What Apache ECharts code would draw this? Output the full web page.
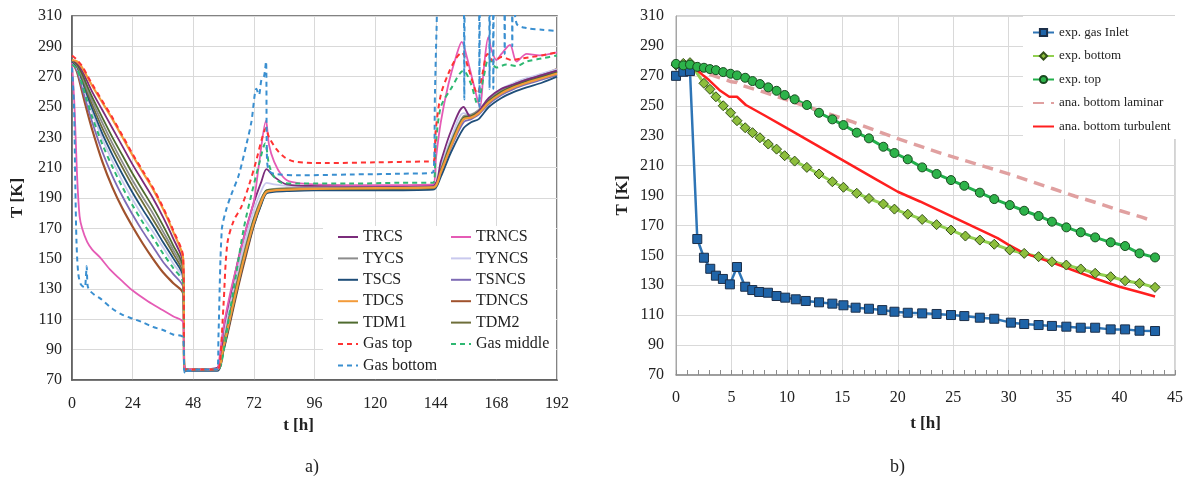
<!DOCTYPE html>
<html><head><meta charset="utf-8">
<script src="https://cdn.jsdelivr.net/npm/echarts/dist/echarts.min.js"></script>
<style>html,body{margin:0;padding:0;background:#fff}#c{width:1190px;height:479px}</style>
</head><body><div id="c"></div>
<script>
// ---------- Panel a) data ----------
const xTicksA = [0, 24, 48, 72, 96, 120, 144, 168, 192];
const yTicks = [70, 90, 110, 130, 150, 170, 190, 210, 230, 250, 270, 290, 310];

const tBand = [0,2,4,6,8,12,16,20,24,28,32,36,40,44,44.6,50,57.5,60,63,66,69,72,75,77,80,85,96,120,143,146,150,155,158,161,165,170,175,180,186,192];
const TDCS  = [281,280,276,270,264,253,242,230,218,207,196,183,168,150,77,77,77,92,114,136,156,174,188,194,195,195.5,196,196.5,197,207,224,242,243,246,253,259,263,266,269,272];
const TRCS  = [281,279,274,267,260,248,236,224,212,201,190,177.5,163.5,147,77,77,78,104,128,151,170,187,201,209,204,199,198,198,198.5,214,234,250,243,247,256,262,265,268,271,274];
const TDM1  = [281,278,272,264,256.5,243,230,218,206,195,184,172,159,144,77,77,77,93,116,138,158,176,189,195,195.5,196,196,196.5,197,208,226,243,244,247,254,260,264,267,270,273];
const TYCS  = [281,277.5,270.5,262,254,239.5,226,213.5,201.5,190.5,180,168,156,142,77,77,77,95,118,140,160,177,190,195,196,196.5,196.5,197,197.5,209,227,244,245,248,255,261,265,268,271,274];
const TDM2  = [281,277,269,260,251.5,236,222.5,210,198,187,176,165,153.5,140,77,77,77,91,113,135,155,173,187,194,195,195.5,196,196,196.5,207,225,242,243,246,253,259,263,266,270,273];
const TSCS  = [280,276.5,267.5,258,249,232.5,218.5,205.5,193.5,182.5,172,161,150.5,138,76,76,76,90,112,134,154,172,186,193,194,194.5,195,195,195.5,204,220,236,240,242,250,256,260,263,266,270];
const TYNCS = [280,275.5,266,256,246.5,229,214.5,201,189,178,168,157.5,147,136,77,77,77,98,122,145,165,182,195,200,199,198,197.5,197.5,198,211,229,246,245,248,256,262,266,269,272,275];
const TSNCS = [280,274,262.5,251,240,220.5,204.5,191,179,168,158,148,140,131,77,77,77,94,116,138,157,175,189,194.5,195,195.5,196,196,196.5,206,223,240,242,245,252,258,262,265,268,271];
const TDNCS = [280,273,260,247,235,214,197,183,171,160,150,141,134,127,77,77,77,90,111,133,153,172,187,194,195.5,196,196.5,197,197,208,226,243,244,247,255,261,265,268,271,275];

const tTRNCS = [0,1,2,3,4,6,8,11,15,20,24,30,36,40,44,44.6,50,57.5,58,60,63,66,69,72,74,76.8,78,80,83,86,96,120,143,144,146,149,152,154.3,156,159,161.5,163,164.8,166,168,170,173.4,176,180,185,192];
const TRNCS  = [279,250,205,178,170,161,156,151,143,135,129,122,116,112,108,78,77,77,80,105,130,150,170,188,212,241,225,214,205,201,199,198.5,199,215,240,265,283,293,285,265,250,275,296,288,281,285,291,280,285,284,286];

const tGasTop = [0,2,4,6,8,12,16,20,24,28,32,36,40,44,44.6,50,57.5,58.5,60,61.5,64,67,70,73,75,76.8,78,81,84,88,100,120,140,143,144,146,149,152,154.3,157,160.5,162.5,164.5,167,170,174,178,182,186,192];
const GasTop  = [284,281,277,271,265,254,243,231,219,208,197,184,169,151,77,77,77,80,120,160,175,184,198,215,228,236,230,222,217,214,213,213.5,214,214,235,258,272,282,286,275,259,272,285,280,283,281,282,283,284,286];

const tGasMid = [0,2,4,6,8,12,16,20,24,28,32,36,40,44,44.6,50,57.5,59,62,65,68,71,74,76.5,78,80,83,90,110,130,143,144,146,150,155,158,160.5,163,165,168,172,176,180,186,192];
const GasMid  = [278,275,265,254,243.5,225.5,210.5,197,185,174,164,153.5,144,134,77,77,77,80,110,140,170,192,212,226,212,204,200,199.5,199.5,200,200,225,250,262,274,265,252,270,282,276,278,277,280,282,284];

const tGasBot = [0,0.8,1.3,1.8,2.5,3.5,5,5.5,5.8,6.2,7,9,11,16,20,24,28,32,36,40,44,44.5,45,46,50,57.5,58,59.3,61,63,66,69,71,73,74,75,76,76.8,77.2,78,80,90,110,130,143,143.7,144.3,145,146,155,155.3,155.6,161,161.3,161.6,165,165.3,165.6,166.5,166.8,167.1,171,171.3,171.6,174,174.3,174.6,176,180,186,192];
const GasBot  = [276,250,200,160,140,133,131,138,145,132,129,126,124,117,113,110.5,108,105,103,100,98,75,77,76,77,77,100,169,182,192,205,225,240,262,258,268,270,280,215,208,206,205,205.5,206,207,260,300,330,330,330,255,330,330,250,330,330,262,330,330,262,330,330,285,330,330,290,330,305,302,301,300];

// ---------- Panel b) data ----------
const xTicksB = [0, 5, 10, 15, 20, 25, 30, 35, 40, 45];

const tInlet = [0,0.66,1.26,1.92,2.52,3.09,3.6,4.23,4.86,5.5,6.24,6.88,7.5,8.29,9.07,9.85,10.8,11.7,12.9,14.1,15.1,16.2,17.4,18.6,19.7,20.9,22.2,23.5,24.8,26,27.4,28.7,30.2,31.4,32.7,33.9,35.2,36.5,37.8,39.2,40.5,41.8,43.2];
const expInlet = [270,272.7,273.2,160.9,148.4,141,136.4,134.2,130.6,142.2,129,126.8,125.5,125,122.8,121.7,120.6,119.5,118.6,117.7,116.6,115,114.3,113.4,112.3,111.6,111.2,110.8,110.1,109.4,108.3,107.6,105,104.1,103.4,102.8,102.3,101.6,101.6,100.5,100.5,99.6,99.4];

const tBottom = [0,0.66,1.26,2.52,3.06,3.6,4.26,4.92,5.5,6.24,6.9,7.57,8.32,9.07,9.8,10.7,11.8,12.9,14.1,15.1,16.3,17.4,18.7,19.7,20.9,22.2,23.5,24.8,26.1,27.4,28.7,30.1,31.4,32.7,33.9,35.2,36.5,37.8,39.2,40.5,41.8,43.2];
const expBottom = [277.2,278.3,278.8,265,261,256,250,245.3,240,235.3,232,228.6,224.4,221,216.6,213,208.8,204.4,199.2,195.5,191.5,188,184.3,180.9,177.5,174,170.5,166.9,162.9,160.2,157.4,153.6,151.3,149.1,145.7,143.5,140.9,138,135.7,133,131.3,128.6];

const tTop = [0,0.66,1.26,1.92,2.52,3.06,3.6,4.26,4.92,5.5,6.24,6.9,7.57,8.32,9.07,9.8,10.7,11.8,12.9,14.1,15.1,16.3,17.4,18.7,19.7,20.9,22.2,23.5,24.8,26,27.4,28.7,30.1,31.4,32.7,33.9,35.2,36.5,37.8,39.2,40.5,41.8,43.2];
const expTop = [278,277,277.5,276,275.4,274.5,273.8,272.5,271.4,270.3,268.7,266.5,264.5,262.3,260,257.2,254.3,250.5,245.3,240.9,237.1,232,228.2,222.6,218.4,214.2,208.8,204.4,200.3,196.5,191.9,187.6,183.6,179.8,176.3,172.5,168.7,165.4,162,158.7,156.2,151.3,148.6];

const tLam = [0,0.7,1.3,2,3,4,5,5.5,6,8,10,12,14,16,18,20,22,24,26,28,30,32,34,36,38,40,42,43];
const anaLaminar = [278,278,277,273.5,271,268.5,266,265.5,263.5,259,254,249,244,239,233.5,228,223,218,213.5,209,204.5,199.5,194.5,189.5,185,180,175.5,173];

const tTurb = [0,1.3,1.7,2.5,3,4,4.8,5.5,6.3,8,10,12,14,16,18,20,22,24,26,27,28,29,30,31,32,34,36,38,40,42,43.2];
const anaTurbulent = [278,278,275,270,267,260,256,256,250.5,243.5,235,226.5,218,209.5,201,192.5,186,179,172,168.5,165,161.5,157,153,150,145,139.5,134,129,125,122.5];

// ---------- build ----------
const pairs = (t, v) => t.map((x, i) => [x, v[i]]);
const FONT = 'Liberation Serif';
const chart = echarts.init(document.getElementById('c'));

function lineA(name, t, v, color, dashed, w) {
  return { name, type: 'line', xAxisIndex: 0, yAxisIndex: 0, data: pairs(t, v),
    symbol: 'none', smooth: 0.3, clip: true,
    lineStyle: { color, width: w || 1.8, type: dashed ? [5, 4] : 'solid' },
    itemStyle: { color } };
}

const axisLabel = { fontFamily: FONT, fontSize: 16, color: '#222' };
const splitLine = { show: true, lineStyle: { color: '#D9D9D9', width: 1 } };
const nameStyle = { fontFamily: FONT, fontSize: 17, fontWeight: 'bold', color: '#222' };

const option = {
  animation: false,
  backgroundColor: '#fff',
  title: [
    { text: 'a)', left: 305, top: 458, padding: 0, textStyle: { fontFamily: FONT, fontSize: 18, fontWeight: 'normal', color: '#222' } },
    { text: 'b)', left: 890, top: 458, padding: 0, textStyle: { fontFamily: FONT, fontSize: 18, fontWeight: 'normal', color: '#222' } }
  ],
  graphic: [
    { type: 'rect', z: 1, shape: { x: 323, y: 226, width: 233, height: 153 }, style: { fill: '#fff' } }
  ],
  grid: [
    { left: 72, top: 16, width: 485, height: 364, show: true, borderColor: '#595959', borderWidth: 1.5, containLabel: false },
    { left: 676, top: 16, width: 499, height: 359, show: true, borderColor: '#A6A6A6', borderWidth: 1, containLabel: false }
  ],
  xAxis: [
    { gridIndex: 0, type: 'value', min: xTicksA[0], max: xTicksA[xTicksA.length - 1], interval: 24,
      name: 't [h]', nameLocation: 'middle', nameGap: 31,
      nameTextStyle: Object.assign({ padding: [0, 32, 0, 0] }, nameStyle),
      axisLine: { lineStyle: { color: '#595959', width: 1.5 } }, axisTick: { show: false },
      axisLabel: Object.assign({ margin: 16 }, axisLabel), splitLine },
    { gridIndex: 1, type: 'value', min: xTicksB[0], max: xTicksB[xTicksB.length - 1], interval: 5,
      name: 't [h]', nameLocation: 'middle', nameGap: 40, nameTextStyle: nameStyle,
      axisLine: { lineStyle: { color: '#8C8C8C', width: 1.5 } },
      axisTick: { show: true, inside: true, length: 5, lineStyle: { color: '#8C8C8C' } },
      minorTick: { show: true, splitNumber: 5, length: 5, lineStyle: { color: '#8C8C8C' } },
      axisLabel: Object.assign({ margin: 15 }, axisLabel), splitLine }
  ],
  yAxis: [
    { gridIndex: 0, type: 'value', min: yTicks[0], max: yTicks[yTicks.length - 1], interval: 20,
      name: 'T [K]', nameLocation: 'middle', nameGap: 46, nameTextStyle: nameStyle,
      axisLine: { show: true, lineStyle: { color: '#595959', width: 1.5 } }, axisTick: { show: false },
      axisLabel: Object.assign({ margin: 10 }, axisLabel), splitLine },
    { gridIndex: 1, type: 'value', min: yTicks[0], max: yTicks[yTicks.length - 1], interval: 20,
      name: 'T [K]', nameLocation: 'middle', nameGap: 45, nameTextStyle: nameStyle,
      axisLine: { show: true, lineStyle: { color: '#A6A6A6', width: 1 } }, axisTick: { show: false },
      axisLabel: Object.assign({ margin: 12 }, axisLabel), splitLine }
  ],
  legend: [
    { orient: 'vertical', left: 337, top: 229, itemGap: 5.4, itemWidth: 20, itemHeight: 10, padding: 0,
      itemStyle: { opacity: 0 },
      textStyle: { fontFamily: FONT, fontSize: 16, color: '#222' },
      data: ['TRCS', 'TYCS', 'TSCS', 'TDCS', 'TDM1', 'Gas top', 'Gas bottom'] },
    { orient: 'vertical', left: 450, top: 229, itemGap: 5.4, itemWidth: 20, itemHeight: 10, padding: 0,
      itemStyle: { opacity: 0 },
      textStyle: { fontFamily: FONT, fontSize: 16, color: '#222' },
      data: ['TRNCS', 'TYNCS', 'TSNCS', 'TDNCS', 'TDM2', 'Gas middle'] },
    { orient: 'vertical', left: 1023, top: 16, itemGap: 10.5, itemWidth: 21, itemHeight: 9,
      padding: [10, 10, 6, 9], backgroundColor: '#fff',
      textStyle: { fontFamily: FONT, fontSize: 13, color: '#222' },
      data: ['exp. gas Inlet', 'exp. bottom', 'exp. top',
        { name: 'ana. bottom laminar', itemStyle: { opacity: 0 } },
        { name: 'ana. bottom turbulent', itemStyle: { opacity: 0 } }] }
  ],
  series: [
    lineA('TDNCS', tBand, TDNCS, '#A0522D', false, 2.2),
    lineA('TSNCS', tBand, TSNCS, '#7E6BB5', false),
    lineA('TYNCS', tBand, TYNCS, '#C9C9EE', false),
    lineA('TSCS', tBand, TSCS, '#1F4E79', false),
    lineA('TDM2', tBand, TDM2, '#6E6E3A', false),
    lineA('TYCS', tBand, TYCS, '#8C8C8C', false),
    lineA('TDM1', tBand, TDM1, '#4F6B2F', false),
    lineA('TRCS', tBand, TRCS, '#7B2C7B', false),
    lineA('TDCS', tBand, TDCS, '#F39B3A', false, 2.2),
    lineA('TRNCS', tTRNCS, TRNCS, '#E55BB5', false),
    lineA('Gas middle', tGasMid, GasMid, '#2EB872', true, 2),
    lineA('Gas top', tGasTop, GasTop, '#FF3333', true, 2),
    lineA('Gas bottom', tGasBot, GasBot, '#3A8FD0', true, 2),

    { name: 'exp. gas Inlet', type: 'line', xAxisIndex: 1, yAxisIndex: 1, data: pairs(tInlet, expInlet),
      symbol: 'rect', symbolSize: 9, lineStyle: { color: '#2E75B6', width: 2.5 },
      itemStyle: { color: '#1F64A8', borderColor: '#1B2F4A', borderWidth: 1 } },
    { name: 'exp. bottom', type: 'line', xAxisIndex: 1, yAxisIndex: 1, data: pairs(tBottom, expBottom),
      symbol: 'diamond', symbolSize: 10, lineStyle: { color: '#92D050', width: 3 },
      itemStyle: { color: '#8DBE3C', borderColor: '#34501A', borderWidth: 1 } },
    { name: 'exp. top', type: 'line', xAxisIndex: 1, yAxisIndex: 1, data: pairs(tTop, expTop),
      symbol: 'circle', symbolSize: 9, lineStyle: { color: '#22B04B', width: 3 },
      itemStyle: { color: '#2DB34A', borderColor: '#1A4A20', borderWidth: 1 } },
    { name: 'ana. bottom laminar', type: 'line', xAxisIndex: 1, yAxisIndex: 1, data: pairs(tLam, anaLaminar),
      symbol: 'none', lineStyle: { color: '#E0A0A0', width: 3.5, type: [11, 7] }, itemStyle: { color: '#E0A0A0' } },
    { name: 'ana. bottom turbulent', type: 'line', xAxisIndex: 1, yAxisIndex: 1, data: pairs(tTurb, anaTurbulent),
      symbol: 'none', lineStyle: { color: '#FF1F1F', width: 2.5 }, itemStyle: { color: '#FF1F1F' } }
  ]
};
chart.setOption(option);
</script>
</body></html>
